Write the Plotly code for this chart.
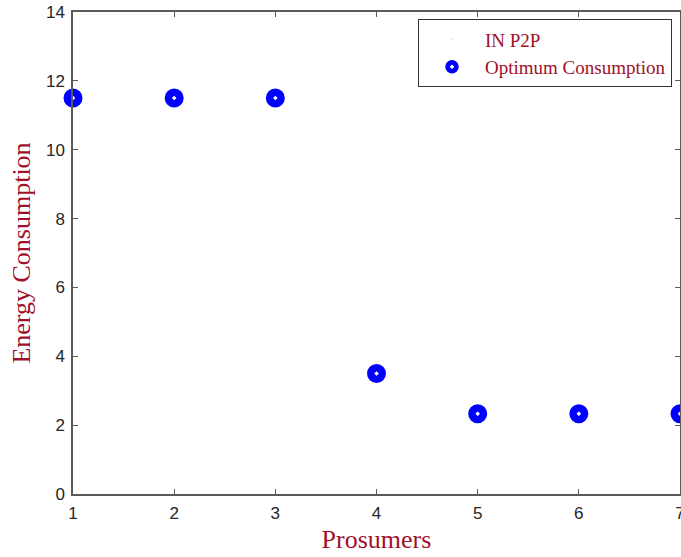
import plotly.graph_objects as go

prosumers = [1, 2, 3, 4, 5, 6, 7]
optimum_consumption = [11.5, 11.5, 11.5, 3.5, 2.33, 2.33, 2.33]
x_ticks = [1, 2, 3, 4, 5, 6, 7]
y_ticks = [0, 2, 4, 6, 8, 10, 12, 14]

red = "#A0102A"
axis_col = "#5A5A5A"
serif = "Liberation Serif, Times New Roman"

fig = go.Figure()
fig.add_trace(go.Scatter(
    x=[None], y=[None], mode="markers", name="IN P2P",
    marker=dict(size=1, opacity=0),
))
fig.add_trace(go.Scatter(
    x=prosumers, y=optimum_consumption, mode="markers",
    name="Optimum Consumption",
    marker=dict(symbol="circle-dot", size=21.5, color="#0000FF",
                line=dict(color="white", width=2.5)),
    cliponaxis=False,
))

axis_common = dict(
    showline=True, linecolor=axis_col, linewidth=1.5, mirror="ticks",
    ticks="inside", ticklen=5, tickwidth=1, tickcolor=axis_col,
    showgrid=False, zeroline=False, ticklabeloverflow="allow",
    automargin=False,
    tickfont=dict(family="Liberation Sans, Arial", size=17, color="#262626"),
)

fig.update_layout(
    width=681, height=557,
    margin=dict(l=73, r=1, t=12, b=63),
    paper_bgcolor="white", plot_bgcolor="white",
    showlegend=True,
    legend=dict(
        x=(418 - 73) / 607, y=0.985, xanchor="left", yanchor="top",
        bgcolor="white", bordercolor="#333333", borderwidth=1,
        font=dict(family=serif, size=19, color=red),
        tracegroupgap=0, itemsizing="trace", itemwidth=56,
    ),
    xaxis=dict(
        range=[1, 7], tickvals=x_ticks, ticklabelstandoff=3,
        title=dict(text="Prosumers", standoff=8,
                   font=dict(family=serif, size=26, color=red)),
        **axis_common,
    ),
    yaxis=dict(
        range=[0, 14], tickvals=y_ticks, ticklabelstandoff=3,
        title=dict(text="Energy Consumption", standoff=8,
                   font=dict(family=serif, size=26, color=red)),
        **axis_common,
    ),
)

fig.write_html("out.html")
